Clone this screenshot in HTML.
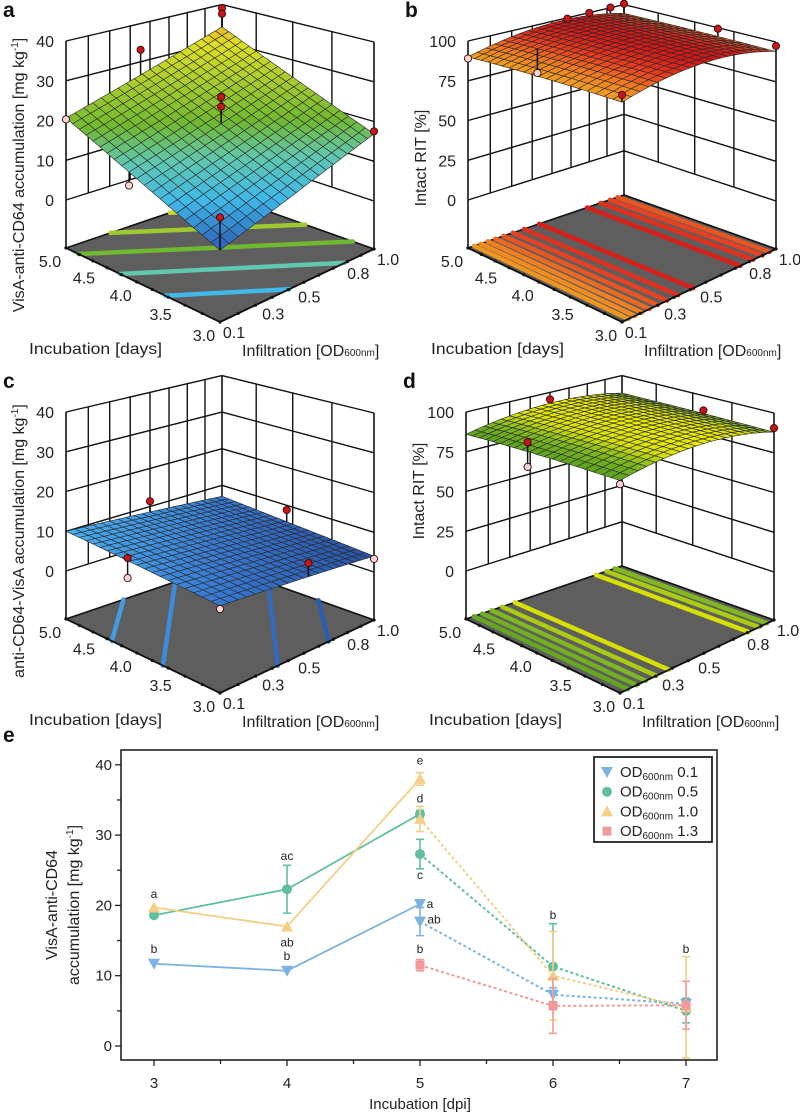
<!DOCTYPE html>
<html><head><meta charset="utf-8"><style>
html,body{margin:0;padding:0;background:#fff;}
svg{display:block;font-family:"Liberation Sans",sans-serif;}
</style></head><body>
<svg id="chart" width="800" height="1113" viewBox="0 0 800 1113" xmlns="http://www.w3.org/2000/svg"></svg>
<script>
// ---------- 3D panel data ----------
// f(u,v)=c0+c1*u+c2*v+c3*u*v+c4*u^2+c5*v^2 ; u=infiltration(0.1..1.0), v=incubation(3..5)
const surfA_coef=[3.6,13.3,17,0,0,0];
const surfB_coef=[90,30,0,0,-26,0];
const surfC_coef=[7,-3,3,0,0,0];
const surfD_coef=[86,24,0,0,-22,0];
const levelsA=[9,14,19,24,29];
const levelsB=[91,92,93,94,95,96,97,98];
const levelsC=[5,6,7,8,9];
const levelsD=[87,88,89,90,91];
const zTicksA=[0,10,20,30,40];
const zTicksB=[0,25,50,75,100];
const zTicksC=[0,10,20,30,40];
const zTicksD=[0,25,50,75,100];
const incubTicks=[3.0,3.5,4.0,4.5,5.0];
const infilTicks=[0.1,0.3,0.5,0.8,1.0];
// points: [u, v, value, isAbove(1=red,0=pink)]
const pointsA=[[1,1,39,1],[1,1,37.5,1],[0.44,1,33,1],[0.5,0.5,25.4,1],[0.5,0.5,23,1],[1,0,17.5,1],[0,1,20.3,0],[0,0.55,9.8,0],[0,0,10.8,1]];
const pointsB=[[0.6,1,99,1],[0.75,1,99.5,1],[0.9,1,100,1],[1,1,100.5,1],[1,0.35,99,1],[1,0,97.5,1],[0,1,89,0],[0.2,0.75,80,0],[0,0,94,1]];
const pointsC=[[0.5,1,11.3,1],[1,0.54,8.7,1],[0,0.56,9.3,1],[0,0.56,4.6,0],[0.53,0,8.6,1],[1,0,3.3,0],[0,0,6.3,0]];
const pointsD=[[0.5,1,95,1],[0,0.56,91.6,1],[0,0.56,77,0],[0,0,84,0],[1,0.43,90,1],[1,0,90.5,1]];

// ---------- panel e data ----------
const eX=[3,4,5,6,7];
const eYTicks=[0,10,20,30,40];
const blueSolidX=[3,4,5], blueSolidY=[11.7,10.7,20.2], blueSolidErr=[0,0,0.5];
const blueDashX=[5,6,7], blueDashY=[17.7,7.3,6.0], blueDashErr=[2.0,1.0,0.8];
const greenSolidX=[3,4,5], greenSolidY=[18.6,22.3,33.0], greenSolidErr=[0,3.4,0.5];
const greenDashX=[5,6,7], greenDashY=[27.3,11.3,5.0], greenDashErr=[2.1,6.1,1.7];
const yellowSolidX=[3,4,5], yellowSolidY=[19.7,17.0,38.0], yellowSolidErr=[0,0,0.9];
const yellowDashX=[5,6,7], yellowDashY=[32.3,10.0,5.5], yellowDashErr=[1.8,6.3,7.2];
const redSolidX=[], redSolidY=[], redSolidErr=[];
const redDashX=[5,6,7], redDashY=[11.5,5.7,5.8], redDashErr=[0.8,3.9,3.4];
const letterX=[3,3,4,4,4,5,5,5,5,5,5,6,7];
const letterY=[21.6,13.8,27.0,14.7,12.8,40.6,35.2,24.3,20.2,18.0,13.8,18.6,13.8];
const letterText=['a','b','ac','ab','b','e','d','c','a','ab','b','b','b'];
const letterDx=[0,0,0,0,0,0,0,0,10,14,0,0,0];

const NS='http://www.w3.org/2000/svg';
const svg=document.getElementById('chart');
function mk(tag,attrs,parent){const e=document.createElementNS(NS,tag);for(const k in attrs)e.setAttribute(k,attrs[k]);(parent||svg).appendChild(e);return e;}

function hexToRgb(h){return [parseInt(h.substr(1,2),16),parseInt(h.substr(3,2),16),parseInt(h.substr(5,2),16)];}
function cmap(stops,val){
  if(val<=stops[0][0])return stops[0][1];
  if(val>=stops[stops.length-1][0])return stops[stops.length-1][1];
  for(let i=0;i<stops.length-1;i++){
    if(val>=stops[i][0]&&val<=stops[i+1][0]){
      const t=(val-stops[i][0])/(stops[i+1][0]-stops[i][0]);
      const a=hexToRgb(stops[i][1]),b=hexToRgb(stops[i+1][1]);
      return 'rgb('+a.map((x,k)=>Math.round(x+(b[k]-x)*t)).join(',')+')';
    }
  }
  return stops[0][1];
}

// homography unit square -> floor quad F(0,0) R(1,0) B(1,1) L(0,1)
const HQ=(function(){
  const x0=220,y0=322,x1=374,y1=249,x2=222,y2=195,x3=66,y3=248;
  const dx1=x1-x2,dx2=x3-x2,dx3=x0-x1+x2-x3,dy1=y1-y2,dy2=y3-y2,dy3=y0-y1+y2-y3;
  const den=dx1*dy2-dx2*dy1;
  const g=(dx3*dy2-dx2*dy3)/den,h=(dx1*dy3-dx3*dy1)/den;
  return {a:x1-x0+g*x1,b:x3-x0+h*x3,c:x0,d:y1-y0+g*y1,e:y3-y0+h*y3,f:y0,g:g,h:h};
})();

function draw3D(c){
  const g=mk('g',{});
  
  
  const f=(u,v)=>{const k=c.coef;return k[0]+k[1]*u+k[2]*v+k[3]*u*v+k[4]*u*u+k[5]*v*v;};
  const proj=(u,v,h)=>{
    const w=HQ.g*u+HQ.h*v+1;
    const x=(HQ.a*u+HQ.b*v+HQ.c)/w;
    const fy=(HQ.d*u+HQ.e*v+HQ.f)/w;
    const s=(1-u)*(1-v)*1.15+u*(1-v)+(1-u)*v+u*v*0.92;
    return [c.ox+x,c.oy+fy-h*s];
  };
  const hv=val=>48+val/c.zmax*159;
  const P=(u,v,val)=>proj(u,v,hv(val));
  const line=(a,b,w,name,col)=>{const l=mk('line',{x1:a[0].toFixed(1),y1:a[1].toFixed(1),x2:b[0].toFixed(1),y2:b[1].toFixed(1),stroke:col||'#111','stroke-width':w||1.4},g);
    
    return l;};
  for(let i=1;i<8;i++){const u=i/8;line(P(u,1,0),P(u,1,c.zmax),1.4,'back-left-wall-gridline');}
  for(let j=1;j<4;j++){const v=j/4;line(P(1,v,0),P(1,v,c.zmax),1.4,'back-right-wall-gridline');}
  c.zticks.forEach(t=>{line(P(0,1,t),P(1,1,t),1.4,'wall-z-gridline');line(P(1,1,t),P(1,0,t),1.4,'wall-z-gridline');});
  line(proj(0,1,0),P(0,1,c.zmax),1.6,'z-axis-left-edge');
  line(proj(1,1,0),P(1,1,c.zmax),1.6,'z-axis-back-edge');
  line(proj(1,0,0),P(1,0,c.zmax),1.6,'z-axis-right-edge');
  const fl=[proj(0,0,0),proj(1,0,0),proj(1,1,0),proj(0,1,0)];
  const floor=mk('polygon',{points:fl.map(p=>p.join(',')).join(' '),fill:'#5e5e5e',stroke:'#111','stroke-width':1.6},g);
  
  
  const N=40;
  c.levels.forEach(L=>{
    let d='';
    for(let i=0;i<N;i++)for(let j=0;j<N;j++){
      const u0=i/N,u1=(i+1)/N,v0=j/N,v1=(j+1)/N;
      const cs=[[u0,v0,f(u0,v0)],[u1,v0,f(u1,v0)],[u1,v1,f(u1,v1)],[u0,v1,f(u0,v1)]];
      const pts=[];
      for(let e=0;e<4;e++){const a=cs[e],b=cs[(e+1)%4];
        if((a[2]-L)*(b[2]-L)<0){const t=(L-a[2])/(b[2]-a[2]);pts.push([a[0]+(b[0]-a[0])*t,a[1]+(b[1]-a[1])*t]);}}
      for(let k=0;k+1<pts.length;k+=2){const p=proj(pts[k][0],pts[k][1],0),q=proj(pts[k+1][0],pts[k+1][1],0);
        d+='M'+p[0].toFixed(1)+','+p[1].toFixed(1)+'L'+q[0].toFixed(1)+','+q[1].toFixed(1);}
    }
    const pth=mk('path',{d:d,stroke:cmap(c.stops,L),'stroke-width':4.5,fill:'none','stroke-linecap':'round'},g);
    
    
  });
  line(proj(0,0,0),proj(0,1,0),1.8,'incubation-axis-edge');
  line(proj(0,0,0),proj(1,0,0),1.8,'infiltration-axis-edge');
  for(let i=0;i<=10;i++){
    const a=proj(0,i/10,0),b=proj(i/10,0,0);
    const d1=mk('circle',{cx:a[0],cy:a[1],r:1.6,fill:'#111'},g);
    
    
    const d2=mk('circle',{cx:b[0],cy:b[1],r:1.6,fill:'#111'},g);
    
    
  }
  const M=20,quads=[];
  for(let i=0;i<M;i++)for(let j=0;j<M;j++)quads.push([i,j]);
  quads.sort((a,b)=>(b[0]+b[1])-(a[0]+a[1]));
  const sg=mk('g',{},g);
  
  
  quads.forEach(([i,j])=>{
    const u0=i/M,u1=(i+1)/M,v0=j/M,v1=(j+1)/M;
    const pts=[P(u0,v0,f(u0,v0)),P(u1,v0,f(u1,v0)),P(u1,v1,f(u1,v1)),P(u0,v1,f(u0,v1))];
    const q=mk('polygon',{points:pts.map(p=>p[0].toFixed(1)+','+p[1].toFixed(1)).join(' '),fill:cmap(c.stops,f((u0+u1)/2,(v0+v1)/2)),stroke:'#2a2a2a','stroke-width':0.6},sg);
    
    
  });
  c.points.forEach(p=>{
    const a=P(p[0],p[1],p[2]),b=P(p[0],p[1],f(p[0],p[1]));
    line(a,b,1.5,'residual-stem');
    const dot=mk('circle',{cx:a[0].toFixed(1),cy:a[1].toFixed(1),r:3.6,fill:p[3]?'#c8141a':'#f8d6d6',stroke:'#3a0a0a','stroke-width':0.9},g);
    
    
  });
  c.zticks.forEach(t=>{const p=P(0,1,t);
    const tx=mk('text',{x:p[0]-12,y:p[1]+6,'font-size':16,'text-anchor':'end',fill:'#222'},g);tx.textContent=t;
    
    });
  incubTicks.forEach(t=>{const v=(t-3)/2;const p=proj(0,v,0);
    const tx=mk('text',{x:p[0]-16,y:p[1]+19,'font-size':16,'text-anchor':'middle',fill:'#222'},g);tx.textContent=t.toFixed(1);
    
    });
  infilTicks.forEach(t=>{const u=(t-0.1)/0.9;const p=proj(u,0,0);
    const tx=mk('text',{x:p[0]+14,y:p[1]+16,'font-size':16,'text-anchor':'middle',fill:'#222'},g);tx.textContent=t.toFixed(1);
    
    });
  const t1=mk('text',{x:c.ox+29,y:c.oy+354,'font-size':16,fill:'#222',textLength:133,lengthAdjust:'spacingAndGlyphs'},g);t1.textContent='Incubation [days]';
  
  
  const t2=mk('text',{x:c.ox+242,y:c.oy+356,'font-size':16,fill:'#222'},g);
  
  
  t2.innerHTML='Infiltration [OD<tspan font-size="10">600nm</tspan>]';
  const t3=mk('text',{x:0,y:0,'font-size':16,fill:'#222','text-anchor':'middle',transform:'translate('+(c.ox+24)+','+(c.oy+c.ty)+') rotate(-90)'},g);
  
  
  t3.innerHTML=c.title;
  const t4=mk('text',{x:c.ox+3,y:c.oy+17,'font-size':21,'font-weight':'bold',fill:'#111'},g);t4.textContent=c.letter;
  
  
}

draw3D({name:'panel-a',ox:0,oy:0,coef:surfA_coef,zmax:40,zticks:zTicksA,levels:levelsA,points:pointsA,letter:'a',ty:175,
  title:'VisA-anti-CD64 accumulation [mg kg<tspan font-size="10" dy="-6">-1</tspan><tspan dy="6">]</tspan>',
  stops:[[3,'#2a50b0'],[9,'#40b8e8'],[14,'#60c8b0'],[19,'#70b830'],[25,'#a8cc30'],[31,'#e0e020'],[35,'#f0a030']]});
draw3D({name:'panel-b',ox:402,oy:0,coef:surfB_coef,zmax:100,zticks:zTicksB,levels:levelsB,points:pointsB,letter:'b',ty:158,
  title:'Intact RIT [%]',
  stops:[[90,'#f0a020'],[93,'#f08020'],[96,'#e84020'],[98.5,'#d41818']]});
draw3D({name:'panel-c',ox:0,oy:371,coef:surfC_coef,zmax:40,zticks:zTicksC,levels:levelsC,points:pointsC,letter:'c',ty:170,
  title:'anti-CD64-VisA accumulation [mg kg<tspan font-size="10" dy="-6">-1</tspan><tspan dy="6">]</tspan>',
  stops:[[4,'#2850a0'],[7,'#3878d0'],[10,'#48b0f0']]});
draw3D({name:'panel-d',ox:400,oy:371,coef:surfD_coef,zmax:100,zticks:zTicksD,levels:levelsD,points:pointsD,letter:'d',ty:120,
  title:'Intact RIT [%]',
  stops:[[86,'#58a020'],[89,'#80b820'],[91,'#d8e000'],[92.5,'#e8e800']]});

// ---------- panel e ----------
(function(){
  const g=mk('g',{});
  
  
  const X=d=>154+(d-3)*133;
  const Y=v=>1046-v*7.03;
  const L=121,R=717,T=750,B=1060;
  const lbl=mk('text',{x:3,y:742,'font-size':21,'font-weight':'bold',fill:'#111'},g);lbl.textContent='e';
  
  
  const fr=mk('rect',{x:L,y:T,width:R-L,height:B-T,fill:'none',stroke:'#222','stroke-width':1.6},g);
  
  
  for(let v=0;v<=40;v+=5){const major=v%10===0;
    const tk=mk('line',{x1:L,x2:L-(major?6:4),y1:Y(v),y2:Y(v),stroke:'#222','stroke-width':1.3},g);
    
    }
  eYTicks.forEach(v=>{const t=mk('text',{x:L-9,y:Y(v)+5,'font-size':15,'text-anchor':'end',fill:'#222'},g);t.textContent=v;
    
    });
  for(let d=3;d<=7;d+=0.5){const major=Number.isInteger(d);
    const tk=mk('line',{x1:X(d),x2:X(d),y1:B,y2:B+(major?6:4),stroke:'#222','stroke-width':1.3},g);
    
    }
  eX.forEach(d=>{const t=mk('text',{x:X(d),y:1088,'font-size':15,'text-anchor':'middle',fill:'#222'},g);t.textContent=d;
    
    });
  const xt=mk('text',{x:420,y:1109,'font-size':15,'text-anchor':'middle',fill:'#222'},g);xt.textContent='Incubation [dpi]';
  
  
  const yt=mk('text',{x:0,y:0,'font-size':16,'text-anchor':'middle',fill:'#222',transform:'translate(57,905) rotate(-90)'},g);
  
  
  yt.innerHTML='VisA-anti-CD64';
  const yt2=mk('text',{x:0,y:0,'font-size':16,'text-anchor':'middle',fill:'#222',transform:'translate(79,905) rotate(-90)'},g);
  
  
  yt2.innerHTML='accumulation [mg kg<tspan font-size="10" dy="-6">-1</tspan><tspan dy="6">]</tspan>';

  function marker(shape,x,y,col,parent){
    let m;
    if(shape==='down')m=mk('polygon',{points:[[x-6,y-5],[x+6,y-5],[x,y+6]].map(p=>p.join(',')).join(' '),fill:col},parent);
    else if(shape==='up')m=mk('polygon',{points:[[x-6,y+5],[x+6,y+5],[x,y-6]].map(p=>p.join(',')).join(' '),fill:col},parent);
    else if(shape==='circle')m=mk('circle',{cx:x,cy:y,r:5,fill:col},parent);
    else m=mk('rect',{x:x-4.5,y:y-4.5,width:9,height:9,fill:col},parent);
    return m;
  }
  const series=[
    {name:'od-0.1',col:'#7db3e2',shape:'down',sx:blueSolidX,sy:blueSolidY,se:blueSolidErr,dx:blueDashX,dy:blueDashY,de:blueDashErr},
    {name:'od-0.5',col:'#5fbf9e',shape:'circle',sx:greenSolidX,sy:greenSolidY,se:greenSolidErr,dx:greenDashX,dy:greenDashY,de:greenDashErr},
    {name:'od-1.0',col:'#f2cf84',shape:'up',sx:yellowSolidX,sy:yellowSolidY,se:yellowSolidErr,dx:yellowDashX,dy:yellowDashY,de:yellowDashErr},
    {name:'od-1.3',col:'#f09a9a',shape:'square',sx:redSolidX,sy:redSolidY,se:redSolidErr,dx:redDashX,dy:redDashY,de:redDashErr}
  ];
  series.forEach(s=>{
    const sg=mk('g',{},g);
    
    
    [[s.sx,s.sy,s.se,false],[s.dx,s.dy,s.de,true]].forEach(([xs,ys,es,dash])=>{
      if(!xs.length)return;
      const pl=mk('polyline',{points:xs.map((x,i)=>X(x)+','+Y(ys[i])).join(' '),fill:'none',stroke:s.col,'stroke-width':dash?2:1.8,'stroke-dasharray':dash?'3,2.5':'none'},sg);
      
      
      xs.forEach((x,i)=>{
        if(es[i]>0){const cx=X(x),y1=Y(ys[i]+es[i]),y2=Y(ys[i]-es[i]);
          const eb=mk('path',{d:'M'+cx+','+y1+'V'+y2+'M'+(cx-4)+','+y1+'H'+(cx+4)+'M'+(cx-4)+','+y2+'H'+(cx+4),stroke:s.col,'stroke-width':1.6,fill:'none'},sg);
          
          }
        const m=marker(s.shape,X(x),Y(ys[i]),s.col,sg);
        
        
      });
    });
  });
  letterText.forEach((t,i)=>{
    const tx=mk('text',{x:X(letterX[i])+letterDx[i],y:Y(letterY[i])+4,'font-size':12,'text-anchor':'middle',fill:'#222'},g);tx.textContent=t;
    
    
  });
  const lg=mk('g',{},g);
  
  
  const lb=mk('rect',{x:594,y:757,width:118,height:85,fill:'#fff',stroke:'#222','stroke-width':1.8},lg);
  
  
  const labs=['0.1','0.5','1.0','1.3'];
  series.forEach((s,i)=>{
    const y=772+i*19.7;
    const m=marker(s.shape,607,y,s.col,lg);
    
    
    const t=mk('text',{x:620,y:y+5,'font-size':15,fill:'#222'},lg);
    
    
    t.innerHTML='OD<tspan font-size="10" dy="3">600nm</tspan><tspan dy="-3"> '+labs[i]+'</tspan>';
  });
})();
</script>
</body></html>
